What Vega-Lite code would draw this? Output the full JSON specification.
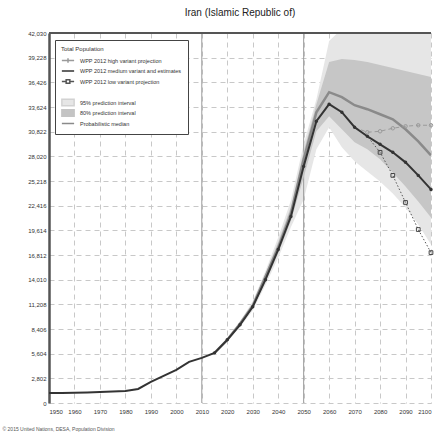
{
  "$schema": "https://vega.github.io/schema/vega-lite/v6.json",
  "width": 382,
  "height": 370,
  "autosize": {"type": "none"},
  "padding": {"left": 49, "top": 33, "right": 4, "bottom": 32},
  "title": {"text": "Iran (Islamic Republic of)", "fontSize": 10, "fontWeight": "normal", "color": "#222", "offset": 12, "font": "Liberation Sans"},
  "config": {
    "font": "Liberation Sans",
    "view": {"stroke": null},
    "axis": {"gridDash": [5, 4], "gridColor": "#c8c8c8", "gridWidth": 1, "ticks": false, "labelFontSize": 6, "labelColor": "#333", "labelFont": "Liberation Sans", "labelOverlap": false, "tickCount": 40}
  },
  "datasets": {
    "lines": [
      {"series": "WPP 2012 medium variant and estimates", "year": 1950, "value": 1139},
      {"series": "WPP 2012 medium variant and estimates", "year": 1955, "value": 1139},
      {"series": "WPP 2012 medium variant and estimates", "year": 1960, "value": 1160},
      {"series": "WPP 2012 medium variant and estimates", "year": 1965, "value": 1196},
      {"series": "WPP 2012 medium variant and estimates", "year": 1970, "value": 1253},
      {"series": "WPP 2012 medium variant and estimates", "year": 1975, "value": 1310},
      {"series": "WPP 2012 medium variant and estimates", "year": 1980, "value": 1367},
      {"series": "WPP 2012 medium variant and estimates", "year": 1985, "value": 1595},
      {"series": "WPP 2012 medium variant and estimates", "year": 1990, "value": 2392},
      {"series": "WPP 2012 medium variant and estimates", "year": 1995, "value": 3075},
      {"series": "WPP 2012 medium variant and estimates", "year": 2000, "value": 3759},
      {"series": "WPP 2012 medium variant and estimates", "year": 2005, "value": 4670},
      {"series": "WPP 2012 medium variant and estimates", "year": 2010, "value": 5126},
      {"series": "WPP 2012 medium variant and estimates", "year": 2015, "value": 5695},
      {"series": "WPP 2012 medium variant and estimates", "year": 2020, "value": 7176},
      {"series": "WPP 2012 medium variant and estimates", "year": 2025, "value": 8884},
      {"series": "WPP 2012 medium variant and estimates", "year": 2030, "value": 10934},
      {"series": "WPP 2012 medium variant and estimates", "year": 2035, "value": 14010},
      {"series": "WPP 2012 medium variant and estimates", "year": 2040, "value": 17427},
      {"series": "WPP 2012 medium variant and estimates", "year": 2045, "value": 21185},
      {"series": "WPP 2012 medium variant and estimates", "year": 2050, "value": 26880},
      {"series": "WPP 2012 medium variant and estimates", "year": 2055, "value": 32006},
      {"series": "WPP 2012 medium variant and estimates", "year": 2060, "value": 33942},
      {"series": "WPP 2012 medium variant and estimates", "year": 2065, "value": 33031},
      {"series": "WPP 2012 medium variant and estimates", "year": 2070, "value": 31323},
      {"series": "WPP 2012 medium variant and estimates", "year": 2075, "value": 30298},
      {"series": "WPP 2012 medium variant and estimates", "year": 2080, "value": 29386},
      {"series": "WPP 2012 medium variant and estimates", "year": 2085, "value": 28475},
      {"series": "WPP 2012 medium variant and estimates", "year": 2090, "value": 27336},
      {"series": "WPP 2012 medium variant and estimates", "year": 2095, "value": 25856},
      {"series": "WPP 2012 medium variant and estimates", "year": 2100, "value": 24261},
      {"series": "Probabilistic median", "year": 2015, "value": 5695},
      {"series": "Probabilistic median", "year": 2020, "value": 7176},
      {"series": "Probabilistic median", "year": 2025, "value": 8998},
      {"series": "Probabilistic median", "year": 2030, "value": 11048},
      {"series": "Probabilistic median", "year": 2035, "value": 14351},
      {"series": "Probabilistic median", "year": 2040, "value": 17655},
      {"series": "Probabilistic median", "year": 2045, "value": 21527},
      {"series": "Probabilistic median", "year": 2050, "value": 27678},
      {"series": "Probabilistic median", "year": 2055, "value": 33031},
      {"series": "Probabilistic median", "year": 2060, "value": 35309},
      {"series": "Probabilistic median", "year": 2065, "value": 34740},
      {"series": "Probabilistic median", "year": 2070, "value": 33828},
      {"series": "Probabilistic median", "year": 2075, "value": 33373},
      {"series": "Probabilistic median", "year": 2080, "value": 32803},
      {"series": "Probabilistic median", "year": 2085, "value": 32234},
      {"series": "Probabilistic median", "year": 2090, "value": 31095},
      {"series": "Probabilistic median", "year": 2095, "value": 29728},
      {"series": "Probabilistic median", "year": 2100, "value": 28133},
      {"series": "WPP 2012 high variant projection", "year": 2070, "value": 31323},
      {"series": "WPP 2012 high variant projection", "year": 2075, "value": 30753},
      {"series": "WPP 2012 high variant projection", "year": 2080, "value": 30867},
      {"series": "WPP 2012 high variant projection", "year": 2085, "value": 31209},
      {"series": "WPP 2012 high variant projection", "year": 2090, "value": 31436},
      {"series": "WPP 2012 high variant projection", "year": 2095, "value": 31550},
      {"series": "WPP 2012 high variant projection", "year": 2100, "value": 31550},
      {"series": "WPP 2012 low variant projection", "year": 2070, "value": 31323},
      {"series": "WPP 2012 low variant projection", "year": 2075, "value": 30298},
      {"series": "WPP 2012 low variant projection", "year": 2080, "value": 28475},
      {"series": "WPP 2012 low variant projection", "year": 2085, "value": 25855},
      {"series": "WPP 2012 low variant projection", "year": 2090, "value": 22780},
      {"series": "WPP 2012 low variant projection", "year": 2095, "value": 19705},
      {"series": "WPP 2012 low variant projection", "year": 2100, "value": 17085}
    ],
    "bands": [
      {"series": "95% prediction interval", "year": 2015, "lo": 5640, "hi": 5750},
      {"series": "95% prediction interval", "year": 2020, "lo": 6980, "hi": 7380},
      {"series": "95% prediction interval", "year": 2025, "lo": 8600, "hi": 9250},
      {"series": "95% prediction interval", "year": 2030, "lo": 10500, "hi": 11550},
      {"series": "95% prediction interval", "year": 2035, "lo": 13400, "hi": 15000},
      {"series": "95% prediction interval", "year": 2040, "lo": 16500, "hi": 18800},
      {"series": "95% prediction interval", "year": 2045, "lo": 20000, "hi": 23000},
      {"series": "95% prediction interval", "year": 2050, "lo": 23122, "hi": 29386},
      {"series": "95% prediction interval", "year": 2055, "lo": 28817, "hi": 34512},
      {"series": "95% prediction interval", "year": 2060, "lo": 31323, "hi": 41118},
      {"series": "95% prediction interval", "year": 2065, "lo": 29045, "hi": 42500},
      {"series": "95% prediction interval", "year": 2070, "lo": 27450, "hi": 43600},
      {"series": "95% prediction interval", "year": 2075, "lo": 26311, "hi": 44500},
      {"series": "95% prediction interval", "year": 2080, "lo": 25172, "hi": 45400},
      {"series": "95% prediction interval", "year": 2085, "lo": 23806, "hi": 46200},
      {"series": "95% prediction interval", "year": 2090, "lo": 22211, "hi": 47000},
      {"series": "95% prediction interval", "year": 2095, "lo": 20275, "hi": 47700},
      {"series": "95% prediction interval", "year": 2100, "lo": 17997, "hi": 48400},
      {"series": "80% prediction interval", "year": 2015, "lo": 5670, "hi": 5720},
      {"series": "80% prediction interval", "year": 2020, "lo": 7080, "hi": 7280},
      {"series": "80% prediction interval", "year": 2025, "lo": 8780, "hi": 9120},
      {"series": "80% prediction interval", "year": 2030, "lo": 10750, "hi": 11250},
      {"series": "80% prediction interval", "year": 2035, "lo": 13750, "hi": 14700},
      {"series": "80% prediction interval", "year": 2040, "lo": 17000, "hi": 18300},
      {"series": "80% prediction interval", "year": 2045, "lo": 20700, "hi": 22300},
      {"series": "80% prediction interval", "year": 2050, "lo": 25628, "hi": 28589},
      {"series": "80% prediction interval", "year": 2055, "lo": 30867, "hi": 33942},
      {"series": "80% prediction interval", "year": 2060, "lo": 32575, "hi": 38726},
      {"series": "80% prediction interval", "year": 2065, "lo": 31095, "hi": 39068},
      {"series": "80% prediction interval", "year": 2070, "lo": 29614, "hi": 38954},
      {"series": "80% prediction interval", "year": 2075, "lo": 28817, "hi": 38726},
      {"series": "80% prediction interval", "year": 2080, "lo": 27678, "hi": 38384},
      {"series": "80% prediction interval", "year": 2085, "lo": 26197, "hi": 38043},
      {"series": "80% prediction interval", "year": 2090, "lo": 24602, "hi": 37701},
      {"series": "80% prediction interval", "year": 2095, "lo": 22894, "hi": 37359},
      {"series": "80% prediction interval", "year": 2100, "lo": 21071, "hi": 37018}
    ],
    "marks": [
      {"year": 2010},
      {"year": 2050}
    ]
  },
  "layer": [
    {
      "data": {"name": "bands"},
      "transform": [{"filter": "datum.series === '95% prediction interval'"}],
      "mark": {"type": "area", "clip": true, "opacity": 1, "color": "#e6e6e6"},
      "encoding": {
        "x": {"field": "year", "type": "quantitative", "scale": {"domain": [1950, 2100], "nice": false, "zero": false},
          "axis": {"values": [1950, 1960, 1970, 1980, 1990, 2000, 2010, 2020, 2030, 2040, 2050, 2060, 2070, 2080, 2090, 2100], "tickCount": 40, "format": "d", "grid": true, "domain": false, "labelPadding": 5, "labelOverlap": false,
            "title": "© 2015 United Nations, DESA, Population Division", "titleFontSize": 5, "titleFontWeight": "normal", "titleColor": "#555", "titleAnchor": "start", "titleAlign": "left", "titleBaseline": "middle", "titleX": -47, "titleY": 25}},
        "y": {"field": "lo", "type": "quantitative", "title": null, "scale": {"domain": [0, 42030], "nice": false, "zero": true},
          "axis": {"values": [0, 2802, 5604, 8406, 11208, 14010, 16812, 19614, 22416, 25218, 28020, 30822, 33624, 36426, 39228, 42030], "tickCount": 40, "format": ",d", "grid": true, "domain": true, "domainColor": "#555", "domainWidth": 2.5, "labelPadding": 3, "labelOverlap": false}},
        "y2": {"field": "hi"}
      }
    },
    {
      "data": {"name": "marks"},
      "mark": {"type": "rule", "color": "#9a9a9a", "strokeWidth": 1},
      "encoding": {
        "x": {"field": "year", "type": "quantitative"}
      }
    },
    {
      "data": {"name": "bands"},
      "transform": [{"filter": "datum.series === '80% prediction interval'"}],
      "mark": {"type": "area", "clip": true, "opacity": 1, "color": "#c6c6c6"},
      "encoding": {
        "x": {"field": "year", "type": "quantitative"},
        "y": {"field": "lo", "type": "quantitative", "title": null},
        "y2": {"field": "hi"}
      }
    },
    {
      "data": {"name": "lines"},
      "transform": [{"filter": "datum.series === 'Probabilistic median'"}],
      "mark": {"type": "line", "strokeWidth": 2.5, "clip": true, "color": "#8a8a8a"},
      "encoding": {
        "x": {"field": "year", "type": "quantitative"},
        "y": {"field": "value", "type": "quantitative", "title": null}
      }
    },
    {
      "data": {"name": "lines"},
      "transform": [{"filter": "datum.series === 'WPP 2012 high variant projection'"}],
      "mark": {"type": "line", "strokeWidth": 1, "strokeDash": [4, 3], "clip": true, "color": "#9a9a9a"},
      "encoding": {
        "x": {"field": "year", "type": "quantitative"},
        "y": {"field": "value", "type": "quantitative", "title": null}
      }
    },
    {
      "data": {"name": "lines"},
      "transform": [{"filter": "datum.series === 'WPP 2012 low variant projection'"}],
      "mark": {"type": "line", "strokeWidth": 1, "strokeDash": [1.5, 2], "clip": true, "color": "#555555"},
      "encoding": {
        "x": {"field": "year", "type": "quantitative"},
        "y": {"field": "value", "type": "quantitative", "title": null}
      }
    },
    {
      "data": {"name": "lines"},
      "transform": [{"filter": "datum.series === 'WPP 2012 medium variant and estimates'"}],
      "mark": {"type": "line", "strokeWidth": 2, "clip": true, "color": "#333333"},
      "encoding": {
        "x": {"field": "year", "type": "quantitative"},
        "y": {"field": "value", "type": "quantitative", "title": null}
      }
    },
    {
      "data": {"name": "lines"},
      "transform": [{"filter": "datum.series === 'WPP 2012 medium variant and estimates' && datum.year >= 2015"}],
      "mark": {"type": "point", "shape": "circle", "filled": true, "size": 12, "color": "#333333", "opacity": 1},
      "encoding": {
        "x": {"field": "year", "type": "quantitative"},
        "y": {"field": "value", "type": "quantitative", "title": null}
      }
    },
    {
      "data": {"name": "lines"},
      "transform": [{"filter": "datum.series === 'WPP 2012 high variant projection' && datum.year >= 2075"}],
      "mark": {"type": "point", "shape": "circle", "filled": false, "size": 12, "color": "#9a9a9a", "strokeWidth": 1, "opacity": 1},
      "encoding": {
        "x": {"field": "year", "type": "quantitative"},
        "y": {"field": "value", "type": "quantitative", "title": null}
      }
    },
    {
      "data": {"name": "lines"},
      "transform": [{"filter": "datum.series === 'WPP 2012 low variant projection' && datum.year >= 2080"}],
      "mark": {"type": "point", "shape": "square", "filled": false, "size": 14, "color": "#444444", "strokeWidth": 1, "opacity": 1},
      "encoding": {
        "x": {"field": "year", "type": "quantitative"},
        "y": {"field": "value", "type": "quantitative", "title": null}
      }
    },
    {
      "data": {"name": "marks"},
      "mark": {"type": "rule", "color": "#555555", "strokeWidth": 2},
      "encoding": {
        "y": {"datum": 42030, "type": "quantitative"}
      }
    },
    {
      "data": {"name": "lines"},
      "transform": [{"filter": "false"}],
      "mark": {"type": "point", "filled": true, "opacity": 1},
      "encoding": {
        "x": {"field": "year", "type": "quantitative"},
        "y": {"field": "value", "type": "quantitative", "title": null},
        "fill": {"field": "series", "type": "nominal", "title": "Total Population",
          "scale": {
            "domain": ["WPP 2012 high variant projection", "WPP 2012 medium variant and estimates", "WPP 2012 low variant projection", " ", "95% prediction interval", "80% prediction interval", "Probabilistic median"],
            "range": ["transparent", "transparent", "#ffffff", "transparent", "#e6e6e6", "#c4c4c4", "transparent"]
          },
          "legend": {
            "orient": "none", "legendX": 6, "legendY": 7,
            "titleFontSize": 6, "titleFontWeight": "normal", "titleColor": "#333", "titlePadding": 4,
            "labelFontSize": 5.5, "labelColor": "#333", "labelLimit": 200, "labelOffset": 5,
            "symbolSize": 150, "clipHeight": 9, "rowPadding": 1.5, "padding": 6, "symbolStrokeWidth": 1.5,
            "strokeColor": "#444", "fillColor": "#ffffff"
          }
        },
        "stroke": {"field": "series", "type": "nominal", "title": "Total Population",
          "scale": {
            "domain": ["WPP 2012 high variant projection", "WPP 2012 medium variant and estimates", "WPP 2012 low variant projection", " ", "95% prediction interval", "80% prediction interval", "Probabilistic median"],
            "range": ["#9a9a9a", "#333333", "#555555", "transparent", "#d2d2d2", "#c4c4c4", "#8a8a8a"]
          },
          "legend": {
            "orient": "none", "legendX": 6, "legendY": 7,
            "titleFontSize": 6, "titleFontWeight": "normal", "titleColor": "#333", "titlePadding": 4,
            "labelFontSize": 5.5, "labelColor": "#333", "labelLimit": 200, "labelOffset": 5,
            "symbolSize": 150, "clipHeight": 9, "rowPadding": 1.5, "padding": 6, "symbolStrokeWidth": 1.5,
            "strokeColor": "#444", "fillColor": "#ffffff"
          }
        },
        "shape": {"field": "series", "type": "nominal", "title": "Total Population",
          "scale": {
            "domain": ["WPP 2012 high variant projection", "WPP 2012 medium variant and estimates", "WPP 2012 low variant projection", " ", "95% prediction interval", "80% prediction interval", "Probabilistic median"],
            "range": ["M-1,0H1M0,-0.35V0.35", "M-1,0H1", "M-1,0H-0.3M0.3,0H1M-0.3,-0.3H0.3V0.3H-0.3Z", "circle", "M-1,-0.55H1V0.55H-1Z", "M-1,-0.55H1V0.55H-1Z", "M-1,0H1"]
          },
          "legend": {
            "orient": "none", "legendX": 6, "legendY": 7,
            "titleFontSize": 6, "titleFontWeight": "normal", "titleColor": "#333", "titlePadding": 4,
            "labelFontSize": 5.5, "labelColor": "#333", "labelLimit": 200, "labelOffset": 5,
            "symbolSize": 150, "clipHeight": 9, "rowPadding": 1.5, "padding": 6, "symbolStrokeWidth": 1.5,
            "strokeColor": "#444", "fillColor": "#ffffff"
          }
        },
        "strokeDash": {"field": "series", "type": "nominal", "title": "Total Population",
          "scale": {
            "domain": ["WPP 2012 high variant projection", "WPP 2012 medium variant and estimates", "WPP 2012 low variant projection", " ", "95% prediction interval", "80% prediction interval", "Probabilistic median"],
            "range": [[1, 0], [1, 0], [1, 0], [1, 0], [1, 0], [1, 0], [1, 0]]
          },
          "legend": {
            "orient": "none", "legendX": 6, "legendY": 7,
            "titleFontSize": 6, "titleFontWeight": "normal", "titleColor": "#333", "titlePadding": 4,
            "labelFontSize": 5.5, "labelColor": "#333", "labelLimit": 200, "labelOffset": 5,
            "symbolSize": 150, "clipHeight": 9, "rowPadding": 1.5, "padding": 6, "symbolStrokeWidth": 1.5,
            "strokeColor": "#444", "fillColor": "#ffffff"
          }
        }
      }
    }
  ]
}
